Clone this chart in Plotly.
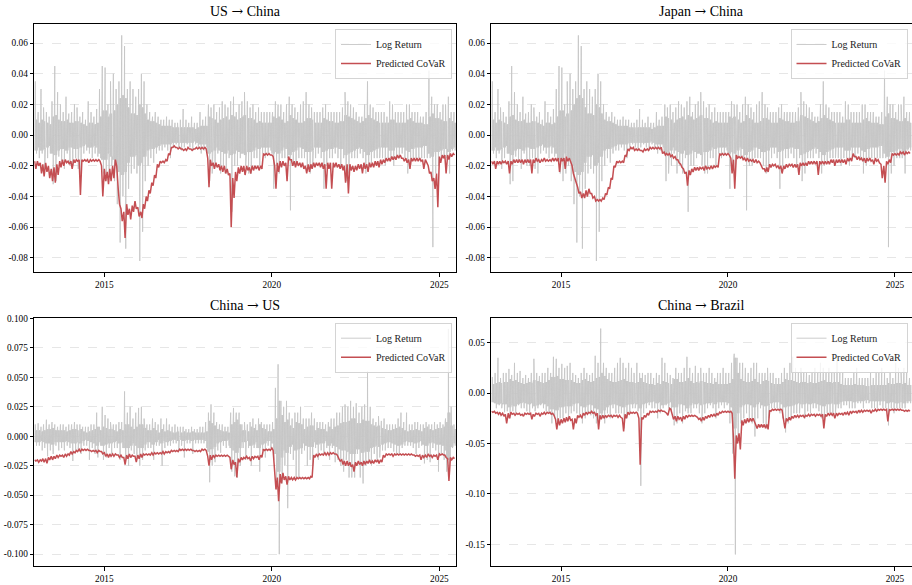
import pandas as pd
import plotly.graph_objects as go

# Monthly observation grid: Dec 2012 .. Jun 2025 (151 months)
month_starts = pd.date_range("2012-12-01", "2025-06-01", freq="MS")

# ---------------- China log return (target of panels 1 & 2) ----------------
# monthly spike high / spike low and half-width of the dense daily band
cn_ret_high = [
    0.035,
    0.015, 0.030, 0.018, 0.015, 0.012, 0.022, 0.045, 0.028, 0.020, 0.015, 0.025, 0.014,
    0.015, 0.020, 0.018, 0.012, 0.015, 0.010, 0.022, 0.015, 0.012, 0.017, 0.030, 0.045,
    0.044, 0.020, 0.035, 0.040, 0.030, 0.035, 0.065, 0.058, 0.030, 0.035, 0.030, 0.025,
    0.030, 0.040, 0.035, 0.020, 0.015, 0.012, 0.015, 0.012, 0.010, 0.010, 0.012, 0.010,
    0.010, 0.008, 0.008, 0.010, 0.017, 0.010, 0.008, 0.012, 0.008, 0.008, 0.015, 0.010,
    0.012, 0.020, 0.018, 0.020, 0.015, 0.018, 0.022, 0.020, 0.018, 0.022, 0.025, 0.015,
    0.020, 0.022, 0.028, 0.022, 0.018, 0.020, 0.015, 0.018, 0.015, 0.015, 0.015, 0.015,
    0.015, 0.022, 0.020, 0.020, 0.015, 0.020, 0.025, 0.020, 0.018, 0.015, 0.020, 0.022,
    0.028, 0.020, 0.018, 0.015, 0.015, 0.015, 0.018, 0.020, 0.015, 0.015, 0.015, 0.015,
    0.015, 0.018, 0.028, 0.022, 0.020, 0.018, 0.015, 0.012, 0.012, 0.020, 0.035, 0.020,
    0.018, 0.015, 0.015, 0.015, 0.015, 0.012, 0.022, 0.020, 0.015, 0.015, 0.015, 0.015,
    0.020, 0.020, 0.015, 0.015, 0.015, 0.012, 0.012, 0.015, 0.042, 0.025, 0.020, 0.020,
    0.015, 0.020, 0.020, 0.025, 0.015, 0.015,
]
cn_ret_low = [
    -0.012,
    -0.015, -0.012, -0.022, -0.015, -0.012, -0.032, -0.030, -0.014, -0.017, -0.022, -0.012, -0.020,
    -0.020, -0.015, -0.022, -0.025, -0.012, -0.010, -0.012, -0.015, -0.012, -0.014, -0.015, -0.025,
    -0.030, -0.025, -0.020, -0.030, -0.045, -0.070, -0.040, -0.074, -0.035, -0.025, -0.022, -0.025,
    -0.082, -0.063, -0.030, -0.020, -0.015, -0.018, -0.012, -0.010, -0.010, -0.008, -0.010, -0.015,
    -0.008, -0.006, -0.008, -0.010, -0.008, -0.006, -0.008, -0.010, -0.006, -0.008, -0.012, -0.010,
    -0.008, -0.030, -0.025, -0.020, -0.012, -0.025, -0.020, -0.025, -0.015, -0.050, -0.020, -0.020,
    -0.015, -0.012, -0.020, -0.025, -0.025, -0.015, -0.015, -0.020, -0.012, -0.015, -0.012, -0.010,
    -0.035, -0.020, -0.025, -0.015, -0.015, -0.015, -0.049, -0.020, -0.020, -0.015, -0.015, -0.015,
    -0.020, -0.025, -0.020, -0.015, -0.012, -0.015, -0.035, -0.020, -0.015, -0.015, -0.012, -0.015,
    -0.020, -0.015, -0.030, -0.025, -0.015, -0.015, -0.015, -0.012, -0.015, -0.025, -0.020, -0.018,
    -0.015, -0.015, -0.015, -0.015, -0.020, -0.015, -0.015, -0.020, -0.015, -0.015, -0.012, -0.015,
    -0.025, -0.020, -0.015, -0.015, -0.015, -0.015, -0.015, -0.015, -0.015, -0.073, -0.025, -0.020,
    -0.015, -0.015, -0.015, -0.025, -0.010, -0.010,
]
cn_ret_core = [
    0.010,
    0.008, 0.010, 0.009, 0.008, 0.007, 0.012, 0.013, 0.010, 0.009, 0.009, 0.010, 0.008,
    0.008, 0.009, 0.009, 0.008, 0.007, 0.006, 0.008, 0.008, 0.007, 0.008, 0.012, 0.016,
    0.016, 0.012, 0.014, 0.016, 0.020, 0.024, 0.026, 0.024, 0.018, 0.014, 0.014, 0.013,
    0.020, 0.018, 0.014, 0.010, 0.009, 0.009, 0.008, 0.007, 0.006, 0.006, 0.006, 0.006,
    0.005, 0.005, 0.005, 0.005, 0.005, 0.005, 0.005, 0.005, 0.004, 0.005, 0.006, 0.006,
    0.006, 0.012, 0.011, 0.010, 0.008, 0.010, 0.011, 0.012, 0.010, 0.013, 0.012, 0.010,
    0.011, 0.012, 0.013, 0.011, 0.011, 0.010, 0.008, 0.009, 0.008, 0.008, 0.008, 0.008,
    0.012, 0.011, 0.012, 0.010, 0.008, 0.009, 0.013, 0.011, 0.010, 0.008, 0.008, 0.009,
    0.011, 0.011, 0.010, 0.008, 0.008, 0.008, 0.011, 0.010, 0.009, 0.009, 0.008, 0.008,
    0.009, 0.009, 0.013, 0.012, 0.011, 0.010, 0.009, 0.008, 0.009, 0.011, 0.013, 0.011,
    0.010, 0.009, 0.008, 0.008, 0.008, 0.008, 0.010, 0.010, 0.008, 0.008, 0.008, 0.008,
    0.010, 0.011, 0.009, 0.008, 0.008, 0.008, 0.007, 0.007, 0.012, 0.014, 0.011, 0.011,
    0.010, 0.009, 0.009, 0.011, 0.009, 0.008,
]

# ---------------- US log return (panel 3) ----------------
us_ret_high = [
    0.010,
    0.011, 0.008, 0.010, 0.014, 0.010, 0.012, 0.010, 0.008, 0.010, 0.010, 0.008, 0.010,
    0.010, 0.012, 0.010, 0.010, 0.008, 0.008, 0.008, 0.010, 0.010, 0.020, 0.008, 0.025,
    0.018, 0.015, 0.012, 0.010, 0.010, 0.012, 0.012, 0.038, 0.020, 0.025, 0.015, 0.020,
    0.024, 0.025, 0.015, 0.010, 0.010, 0.015, 0.012, 0.010, 0.015, 0.010, 0.015, 0.010,
    0.008, 0.010, 0.008, 0.008, 0.008, 0.006, 0.006, 0.008, 0.006, 0.006, 0.008, 0.008,
    0.012, 0.020, 0.027, 0.020, 0.012, 0.010, 0.010, 0.008, 0.008, 0.020, 0.024, 0.020,
    0.020, 0.010, 0.012, 0.010, 0.012, 0.015, 0.010, 0.015, 0.012, 0.010, 0.010, 0.010,
    0.012, 0.041, 0.061, 0.030, 0.025, 0.030, 0.020, 0.015, 0.020, 0.020, 0.025, 0.015,
    0.015, 0.015, 0.020, 0.015, 0.012, 0.012, 0.012, 0.010, 0.012, 0.015, 0.015, 0.020,
    0.020, 0.025, 0.027, 0.025, 0.030, 0.025, 0.028, 0.020, 0.025, 0.027, 0.055, 0.025,
    0.015, 0.012, 0.017, 0.013, 0.015, 0.010, 0.010, 0.010, 0.010, 0.015, 0.020, 0.012,
    0.020, 0.010, 0.010, 0.012, 0.012, 0.010, 0.010, 0.012, 0.010, 0.010, 0.012, 0.010,
    0.012, 0.010, 0.015, 0.091, 0.025, 0.010,
]
us_ret_low = [
    -0.008,
    -0.008, -0.012, -0.010, -0.017, -0.012, -0.015, -0.008, -0.012, -0.010, -0.012, -0.008, -0.010,
    -0.021, -0.012, -0.012, -0.015, -0.008, -0.008, -0.020, -0.010, -0.015, -0.018, -0.008, -0.020,
    -0.018, -0.010, -0.015, -0.010, -0.010, -0.020, -0.010, -0.020, -0.025, -0.012, -0.015, -0.018,
    -0.025, -0.020, -0.012, -0.010, -0.010, -0.020, -0.008, -0.008, -0.025, -0.010, -0.008, -0.008,
    -0.006, -0.006, -0.012, -0.008, -0.018, -0.006, -0.006, -0.015, -0.006, -0.006, -0.006, -0.006,
    -0.010, -0.039, -0.025, -0.022, -0.012, -0.014, -0.008, -0.010, -0.008, -0.030, -0.034, -0.035,
    -0.025, -0.010, -0.020, -0.010, -0.025, -0.010, -0.010, -0.030, -0.012, -0.018, -0.008, -0.010,
    -0.020, -0.045, -0.100, -0.040, -0.025, -0.061, -0.015, -0.020, -0.035, -0.035, -0.015, -0.012,
    -0.025, -0.020, -0.025, -0.010, -0.020, -0.012, -0.015, -0.010, -0.020, -0.010, -0.022, -0.020,
    -0.025, -0.030, -0.020, -0.035, -0.035, -0.035, -0.015, -0.035, -0.040, -0.025, -0.020, -0.025,
    -0.015, -0.020, -0.018, -0.012, -0.012, -0.010, -0.010, -0.013, -0.015, -0.015, -0.010, -0.008,
    -0.008, -0.008, -0.010, -0.015, -0.010, -0.008, -0.023, -0.020, -0.022, -0.010, -0.012, -0.030,
    -0.015, -0.020, -0.030, -0.030, -0.010, -0.008,
]
us_ret_core = [
    0.005,
    0.005, 0.004, 0.005, 0.006, 0.006, 0.007, 0.005, 0.005, 0.005, 0.005, 0.004, 0.005,
    0.006, 0.006, 0.005, 0.006, 0.004, 0.003, 0.004, 0.005, 0.006, 0.008, 0.005, 0.008,
    0.007, 0.006, 0.006, 0.005, 0.004, 0.006, 0.005, 0.010, 0.010, 0.008, 0.006, 0.008,
    0.010, 0.010, 0.007, 0.005, 0.005, 0.007, 0.005, 0.003, 0.006, 0.004, 0.005, 0.004,
    0.003, 0.003, 0.004, 0.003, 0.004, 0.003, 0.003, 0.004, 0.003, 0.003, 0.003, 0.003,
    0.004, 0.013, 0.011, 0.009, 0.006, 0.005, 0.004, 0.004, 0.003, 0.010, 0.012, 0.014,
    0.010, 0.005, 0.005, 0.004, 0.008, 0.007, 0.005, 0.010, 0.007, 0.006, 0.004, 0.004,
    0.006, 0.015, 0.030, 0.018, 0.012, 0.014, 0.009, 0.007, 0.012, 0.011, 0.010, 0.006,
    0.008, 0.009, 0.009, 0.005, 0.007, 0.006, 0.006, 0.004, 0.008, 0.006, 0.008, 0.009,
    0.011, 0.012, 0.012, 0.013, 0.015, 0.015, 0.011, 0.011, 0.014, 0.013, 0.013, 0.010,
    0.009, 0.008, 0.009, 0.007, 0.006, 0.005, 0.005, 0.006, 0.007, 0.008, 0.007, 0.005,
    0.004, 0.005, 0.005, 0.006, 0.005, 0.004, 0.007, 0.008, 0.006, 0.005, 0.006, 0.007,
    0.007, 0.008, 0.012, 0.020, 0.009, 0.006,
]

# ---------------- Brazil log return (panel 4) ----------------
br_ret_high = [
    0.016,
    0.020, 0.035, 0.015, 0.020, 0.020, 0.024, 0.018, 0.030, 0.020, 0.022, 0.015, 0.018,
    0.015, 0.020, 0.034, 0.020, 0.017, 0.020, 0.020, 0.025, 0.020, 0.036, 0.034, 0.025,
    0.029, 0.025, 0.027, 0.030, 0.020, 0.018, 0.015, 0.020, 0.025, 0.020, 0.018, 0.020,
    0.037, 0.030, 0.064, 0.030, 0.025, 0.020, 0.020, 0.025, 0.030, 0.035, 0.030, 0.025,
    0.030, 0.025, 0.020, 0.030, 0.020, 0.020, 0.018, 0.020, 0.020, 0.015, 0.020, 0.018,
    0.035, 0.030, 0.020, 0.018, 0.015, 0.025, 0.020, 0.020, 0.025, 0.036, 0.025, 0.020,
    0.027, 0.020, 0.025, 0.020, 0.020, 0.025, 0.020, 0.015, 0.020, 0.020, 0.025, 0.020,
    0.020, 0.030, 0.039, 0.035, 0.030, 0.030, 0.025, 0.020, 0.025, 0.030, 0.030, 0.020,
    0.020, 0.020, 0.025, 0.020, 0.020, 0.015, 0.015, 0.020, 0.025, 0.020, 0.030, 0.036,
    0.025, 0.020, 0.025, 0.020, 0.020, 0.018, 0.020, 0.025, 0.020, 0.030, 0.025, 0.020,
    0.025, 0.020, 0.020, 0.037, 0.020, 0.020, 0.015, 0.015, 0.015, 0.020, 0.025, 0.015,
    0.015, 0.015, 0.015, 0.020, 0.015, 0.020, 0.020, 0.025, 0.020, 0.015, 0.020, 0.015,
    0.030, 0.025, 0.020, 0.025, 0.020, 0.015,
]
br_ret_low = [
    -0.009,
    -0.015, -0.012, -0.015, -0.019, -0.018, -0.025, -0.018, -0.020, -0.012, -0.015, -0.015, -0.018,
    -0.020, -0.015, -0.018, -0.015, -0.012, -0.015, -0.018, -0.020, -0.030, -0.025, -0.033, -0.025,
    -0.025, -0.020, -0.025, -0.020, -0.018, -0.020, -0.022, -0.030, -0.025, -0.020, -0.022, -0.025,
    -0.030, -0.025, -0.025, -0.030, -0.020, -0.025, -0.015, -0.020, -0.020, -0.020, -0.035, -0.025,
    -0.020, -0.015, -0.015, -0.018, -0.092, -0.020, -0.015, -0.012, -0.015, -0.015, -0.025, -0.020,
    -0.015, -0.012, -0.015, -0.018, -0.032, -0.030, -0.020, -0.030, -0.018, -0.020, -0.020, -0.015,
    -0.015, -0.020, -0.030, -0.020, -0.015, -0.012, -0.015, -0.025, -0.015, -0.012, -0.015, -0.012,
    -0.030, -0.060, -0.160, -0.045, -0.030, -0.025, -0.020, -0.025, -0.030, -0.043, -0.025, -0.015,
    -0.030, -0.035, -0.025, -0.015, -0.015, -0.015, -0.020, -0.025, -0.039, -0.030, -0.025, -0.020,
    -0.020, -0.020, -0.015, -0.025, -0.018, -0.020, -0.015, -0.015, -0.018, -0.025, -0.030, -0.020,
    -0.020, -0.020, -0.020, -0.015, -0.015, -0.012, -0.012, -0.015, -0.015, -0.015, -0.010, -0.010,
    -0.015, -0.010, -0.010, -0.015, -0.015, -0.015, -0.012, -0.015, -0.015, -0.032, -0.015, -0.020,
    -0.015, -0.015, -0.015, -0.015, -0.010, -0.010,
]
br_ret_core = [
    0.009,
    0.010, 0.011, 0.010, 0.011, 0.011, 0.014, 0.012, 0.013, 0.011, 0.010, 0.009, 0.010,
    0.011, 0.010, 0.013, 0.012, 0.011, 0.010, 0.011, 0.013, 0.016, 0.016, 0.017, 0.014,
    0.014, 0.013, 0.013, 0.013, 0.011, 0.010, 0.010, 0.013, 0.014, 0.012, 0.011, 0.012,
    0.015, 0.016, 0.020, 0.017, 0.014, 0.012, 0.011, 0.011, 0.012, 0.013, 0.014, 0.012,
    0.011, 0.011, 0.010, 0.011, 0.015, 0.011, 0.010, 0.009, 0.009, 0.008, 0.010, 0.009,
    0.012, 0.011, 0.010, 0.009, 0.014, 0.014, 0.011, 0.011, 0.012, 0.015, 0.012, 0.010,
    0.011, 0.010, 0.012, 0.011, 0.010, 0.010, 0.009, 0.011, 0.009, 0.009, 0.009, 0.009,
    0.010, 0.014, 0.035, 0.020, 0.014, 0.012, 0.011, 0.011, 0.012, 0.014, 0.011, 0.009,
    0.012, 0.013, 0.012, 0.010, 0.009, 0.009, 0.009, 0.011, 0.014, 0.013, 0.013, 0.012,
    0.011, 0.010, 0.011, 0.011, 0.010, 0.011, 0.010, 0.010, 0.011, 0.012, 0.013, 0.011,
    0.011, 0.010, 0.011, 0.011, 0.009, 0.008, 0.008, 0.008, 0.008, 0.009, 0.008, 0.008,
    0.008, 0.007, 0.007, 0.008, 0.008, 0.008, 0.008, 0.008, 0.008, 0.010, 0.009, 0.009,
    0.010, 0.010, 0.009, 0.010, 0.008, 0.008,
]

# ---------------- Predicted CoVaR: monthly level and intra-month trough ----------------
us_cn_covar_level = [
    -0.017,
    -0.017, -0.018, -0.019, -0.018, -0.020, -0.022, -0.021, -0.019, -0.017, -0.016, -0.016, -0.017,
    -0.017, -0.016, -0.016, -0.016, -0.016, -0.016, -0.016, -0.016, -0.016, -0.016, -0.016, -0.020,
    -0.022, -0.024, -0.022, -0.020, -0.016, -0.035, -0.048, -0.050, -0.045, -0.048, -0.046, -0.043,
    -0.047, -0.050, -0.045, -0.040, -0.036, -0.031, -0.026, -0.019, -0.017, -0.017, -0.016, -0.012,
    -0.008, -0.007, -0.008, -0.008, -0.009, -0.009, -0.008, -0.009, -0.009, -0.008, -0.008, -0.008,
    -0.008, -0.015, -0.016, -0.018, -0.018, -0.019, -0.020, -0.020, -0.022, -0.025, -0.028, -0.024,
    -0.021, -0.020, -0.020, -0.020, -0.021, -0.020, -0.020, -0.020, -0.020, -0.012, -0.012, -0.012,
    -0.013, -0.020, -0.018, -0.017, -0.017, -0.018, -0.014, -0.016, -0.017, -0.017, -0.018, -0.018,
    -0.020, -0.019, -0.019, -0.018, -0.018, -0.018, -0.018, -0.019, -0.018, -0.018, -0.018, -0.018,
    -0.019, -0.019, -0.020, -0.019, -0.019, -0.020, -0.020, -0.019, -0.019, -0.018, -0.019, -0.018,
    -0.018, -0.017, -0.017, -0.016, -0.016, -0.015, -0.015, -0.014, -0.014, -0.013, -0.013, -0.015,
    -0.015, -0.016, -0.015, -0.015, -0.015, -0.015, -0.016, -0.016, -0.020, -0.024, -0.028, -0.025,
    -0.014, -0.013, -0.013, -0.013, -0.012, -0.012,
]
us_cn_covar_trough = [
    -0.022,
    -0.020, -0.025, -0.027, -0.024, -0.028, -0.030, -0.031, -0.026, -0.021, -0.020, -0.018, -0.019,
    -0.022, -0.018, -0.017, -0.039, -0.017, -0.017, -0.018, -0.017, -0.017, -0.017, -0.017, -0.040,
    -0.030, -0.032, -0.030, -0.028, -0.020, -0.045, -0.056, -0.067, -0.052, -0.055, -0.050, -0.048,
    -0.053, -0.054, -0.048, -0.043, -0.038, -0.033, -0.028, -0.021, -0.018, -0.018, -0.017, -0.013,
    -0.008, -0.008, -0.009, -0.009, -0.010, -0.010, -0.009, -0.010, -0.009, -0.009, -0.009, -0.009,
    -0.009, -0.034, -0.020, -0.022, -0.021, -0.023, -0.024, -0.025, -0.026, -0.060, -0.041, -0.030,
    -0.025, -0.024, -0.026, -0.023, -0.025, -0.023, -0.022, -0.023, -0.022, -0.013, -0.013, -0.013,
    -0.014, -0.035, -0.024, -0.021, -0.020, -0.030, -0.016, -0.020, -0.021, -0.020, -0.021, -0.022,
    -0.025, -0.024, -0.022, -0.021, -0.020, -0.021, -0.022, -0.035, -0.022, -0.035, -0.021, -0.021,
    -0.022, -0.023, -0.031, -0.038, -0.023, -0.024, -0.023, -0.022, -0.025, -0.022, -0.024, -0.021,
    -0.021, -0.020, -0.021, -0.019, -0.018, -0.017, -0.017, -0.016, -0.016, -0.015, -0.015, -0.017,
    -0.018, -0.022, -0.017, -0.017, -0.017, -0.017, -0.022, -0.018, -0.025, -0.030, -0.035, -0.047,
    -0.018, -0.015, -0.025, -0.016, -0.014, -0.013,
]

jp_cn_covar_level = [
    -0.017,
    -0.017, -0.017, -0.017, -0.017, -0.017, -0.017, -0.017, -0.016, -0.016, -0.016, -0.016, -0.016,
    -0.016, -0.016, -0.016, -0.015, -0.016, -0.016, -0.015, -0.016, -0.016, -0.015, -0.015, -0.015,
    -0.015, -0.015, -0.014, -0.015, -0.020, -0.028, -0.034, -0.037, -0.038, -0.036, -0.035, -0.038,
    -0.040, -0.042, -0.042, -0.041, -0.038, -0.034, -0.028, -0.020, -0.017, -0.017, -0.017, -0.013,
    -0.009, -0.008, -0.008, -0.009, -0.009, -0.010, -0.009, -0.009, -0.008, -0.008, -0.008, -0.008,
    -0.008, -0.011, -0.012, -0.012, -0.013, -0.014, -0.016, -0.019, -0.022, -0.024, -0.023, -0.022,
    -0.021, -0.021, -0.021, -0.021, -0.020, -0.021, -0.020, -0.020, -0.020, -0.012, -0.012, -0.012,
    -0.012, -0.015, -0.016, -0.013, -0.014, -0.014, -0.015, -0.015, -0.016, -0.016, -0.016, -0.017,
    -0.020, -0.022, -0.021, -0.019, -0.019, -0.019, -0.020, -0.020, -0.020, -0.019, -0.019, -0.019,
    -0.019, -0.019, -0.018, -0.018, -0.018, -0.017, -0.017, -0.017, -0.017, -0.017, -0.017, -0.017,
    -0.017, -0.016, -0.016, -0.016, -0.016, -0.016, -0.016, -0.015, -0.015, -0.012, -0.014, -0.014,
    -0.015, -0.015, -0.015, -0.015, -0.016, -0.015, -0.016, -0.019, -0.020, -0.017, -0.016, -0.012,
    -0.012, -0.012, -0.011, -0.011, -0.011, -0.011,
]
jp_cn_covar_trough = [
    -0.019,
    -0.022, -0.019, -0.019, -0.018, -0.019, -0.025, -0.019, -0.018, -0.018, -0.018, -0.019, -0.018,
    -0.018, -0.025, -0.018, -0.017, -0.018, -0.017, -0.017, -0.017, -0.017, -0.017, -0.017, -0.024,
    -0.017, -0.022, -0.017, -0.017, -0.025, -0.032, -0.038, -0.041, -0.041, -0.040, -0.038, -0.041,
    -0.043, -0.043, -0.043, -0.042, -0.039, -0.035, -0.029, -0.021, -0.018, -0.018, -0.018, -0.014,
    -0.010, -0.009, -0.010, -0.010, -0.010, -0.011, -0.010, -0.010, -0.009, -0.009, -0.009, -0.009,
    -0.012, -0.013, -0.013, -0.014, -0.015, -0.016, -0.018, -0.021, -0.025, -0.033, -0.026, -0.024,
    -0.023, -0.023, -0.022, -0.023, -0.022, -0.022, -0.022, -0.021, -0.021, -0.013, -0.013, -0.013,
    -0.013, -0.025, -0.035, -0.015, -0.015, -0.016, -0.017, -0.017, -0.017, -0.018, -0.018, -0.018,
    -0.022, -0.024, -0.024, -0.021, -0.020, -0.021, -0.022, -0.025, -0.022, -0.021, -0.020, -0.021,
    -0.021, -0.026, -0.020, -0.020, -0.020, -0.019, -0.019, -0.019, -0.026, -0.019, -0.019, -0.019,
    -0.019, -0.018, -0.020, -0.018, -0.018, -0.018, -0.019, -0.017, -0.017, -0.014, -0.016, -0.016,
    -0.017, -0.018, -0.017, -0.017, -0.019, -0.017, -0.018, -0.028, -0.031, -0.019, -0.018, -0.013,
    -0.013, -0.013, -0.012, -0.013, -0.012, -0.012,
]

cn_us_covar_level = [
    -0.020,
    -0.020, -0.020, -0.019, -0.019, -0.018, -0.017, -0.017, -0.016, -0.016, -0.016, -0.015, -0.015,
    -0.013, -0.013, -0.012, -0.011, -0.011, -0.011, -0.011, -0.012, -0.012, -0.012, -0.012, -0.013,
    -0.014, -0.015, -0.015, -0.015, -0.015, -0.016, -0.016, -0.018, -0.016, -0.015, -0.016, -0.017,
    -0.016, -0.015, -0.015, -0.015, -0.015, -0.014, -0.014, -0.014, -0.014, -0.013, -0.013, -0.013,
    -0.012, -0.012, -0.012, -0.011, -0.011, -0.011, -0.011, -0.011, -0.012, -0.012, -0.012, -0.011,
    -0.011, -0.017, -0.016, -0.016, -0.016, -0.016, -0.016, -0.016, -0.016, -0.018, -0.020, -0.022,
    -0.019, -0.018, -0.018, -0.017, -0.018, -0.017, -0.017, -0.017, -0.016, -0.011, -0.011, -0.011,
    -0.010, -0.030, -0.035, -0.032, -0.031, -0.034, -0.034, -0.035, -0.035, -0.035, -0.035, -0.035,
    -0.035, -0.035, -0.034, -0.016, -0.015, -0.015, -0.015, -0.014, -0.014, -0.014, -0.014, -0.015,
    -0.019, -0.020, -0.021, -0.021, -0.022, -0.024, -0.022, -0.021, -0.022, -0.021, -0.021, -0.020,
    -0.021, -0.020, -0.020, -0.020, -0.016, -0.015, -0.015, -0.015, -0.015, -0.015, -0.015, -0.015,
    -0.015, -0.015, -0.015, -0.016, -0.016, -0.016, -0.016, -0.016, -0.015, -0.016, -0.016, -0.016,
    -0.015, -0.015, -0.016, -0.019, -0.018, -0.018,
]
cn_us_covar_trough = [
    -0.021,
    -0.022, -0.021, -0.022, -0.023, -0.020, -0.020, -0.019, -0.018, -0.017, -0.018, -0.017, -0.016,
    -0.015, -0.014, -0.013, -0.013, -0.012, -0.012, -0.012, -0.013, -0.013, -0.014, -0.013, -0.015,
    -0.017, -0.018, -0.017, -0.017, -0.016, -0.018, -0.018, -0.024, -0.019, -0.018, -0.017, -0.022,
    -0.019, -0.018, -0.016, -0.016, -0.016, -0.016, -0.015, -0.015, -0.015, -0.015, -0.014, -0.014,
    -0.013, -0.013, -0.013, -0.012, -0.012, -0.012, -0.012, -0.012, -0.013, -0.013, -0.013, -0.012,
    -0.012, -0.025, -0.020, -0.018, -0.017, -0.017, -0.017, -0.017, -0.017, -0.028, -0.024, -0.035,
    -0.022, -0.020, -0.019, -0.019, -0.021, -0.019, -0.018, -0.020, -0.018, -0.012, -0.012, -0.012,
    -0.012, -0.045, -0.055, -0.040, -0.037, -0.041, -0.037, -0.037, -0.037, -0.036, -0.036, -0.036,
    -0.036, -0.036, -0.035, -0.018, -0.017, -0.016, -0.016, -0.016, -0.016, -0.015, -0.015, -0.016,
    -0.021, -0.024, -0.025, -0.025, -0.026, -0.030, -0.025, -0.024, -0.025, -0.024, -0.023, -0.023,
    -0.023, -0.022, -0.023, -0.022, -0.018, -0.016, -0.016, -0.017, -0.016, -0.016, -0.016, -0.016,
    -0.016, -0.016, -0.016, -0.017, -0.017, -0.020, -0.018, -0.018, -0.017, -0.018, -0.017, -0.020,
    -0.016, -0.016, -0.018, -0.038, -0.020, -0.019,
]

cn_br_covar_level = [
    -0.018,
    -0.018, -0.019, -0.019, -0.020, -0.021, -0.020, -0.019, -0.020, -0.020, -0.020, -0.021, -0.020,
    -0.020, -0.020, -0.021, -0.020, -0.020, -0.020, -0.019, -0.019, -0.019, -0.020, -0.026, -0.025,
    -0.026, -0.025, -0.024, -0.023, -0.026, -0.025, -0.022, -0.022, -0.020, -0.019, -0.019, -0.018,
    -0.019, -0.020, -0.022, -0.022, -0.022, -0.022, -0.022, -0.022, -0.022, -0.022, -0.025, -0.021,
    -0.019, -0.019, -0.019, -0.019, -0.025, -0.024, -0.022, -0.020, -0.018, -0.018, -0.018, -0.017,
    -0.017, -0.018, -0.020, -0.015, -0.022, -0.023, -0.023, -0.024, -0.023, -0.022, -0.022, -0.022,
    -0.022, -0.024, -0.025, -0.024, -0.023, -0.022, -0.021, -0.021, -0.020, -0.019, -0.018, -0.018,
    -0.018, -0.018, -0.045, -0.042, -0.040, -0.027, -0.026, -0.025, -0.025, -0.025, -0.031, -0.031,
    -0.031, -0.031, -0.031, -0.017, -0.016, -0.016, -0.016, -0.016, -0.027, -0.025, -0.024, -0.023,
    -0.022, -0.022, -0.022, -0.022, -0.022, -0.021, -0.021, -0.021, -0.021, -0.021, -0.021, -0.021,
    -0.020, -0.020, -0.020, -0.020, -0.020, -0.020, -0.019, -0.019, -0.018, -0.018, -0.018, -0.017,
    -0.017, -0.017, -0.017, -0.017, -0.017, -0.016, -0.016, -0.016, -0.016, -0.016, -0.016, -0.016,
    -0.016, -0.016, -0.016, -0.017, -0.017, -0.017,
]
cn_br_covar_trough = [
    -0.019,
    -0.020, -0.021, -0.022, -0.023, -0.030, -0.025, -0.021, -0.022, -0.021, -0.022, -0.023, -0.021,
    -0.021, -0.026, -0.023, -0.021, -0.023, -0.021, -0.021, -0.020, -0.021, -0.022, -0.036, -0.032,
    -0.030, -0.029, -0.028, -0.027, -0.036, -0.030, -0.024, -0.025, -0.022, -0.021, -0.020, -0.020,
    -0.022, -0.036, -0.026, -0.025, -0.024, -0.023, -0.024, -0.023, -0.024, -0.024, -0.038, -0.025,
    -0.021, -0.020, -0.020, -0.020, -0.071, -0.026, -0.024, -0.022, -0.019, -0.019, -0.019, -0.018,
    -0.018, -0.019, -0.022, -0.016, -0.026, -0.028, -0.026, -0.028, -0.026, -0.024, -0.023, -0.023,
    -0.023, -0.026, -0.028, -0.027, -0.025, -0.024, -0.023, -0.023, -0.022, -0.020, -0.019, -0.019,
    -0.019, -0.020, -0.085, -0.050, -0.056, -0.032, -0.030, -0.029, -0.028, -0.028, -0.035, -0.034,
    -0.034, -0.035, -0.036, -0.018, -0.017, -0.017, -0.017, -0.017, -0.035, -0.028, -0.027, -0.025,
    -0.024, -0.024, -0.023, -0.024, -0.023, -0.023, -0.022, -0.023, -0.022, -0.023, -0.035, -0.023,
    -0.022, -0.022, -0.025, -0.022, -0.021, -0.022, -0.021, -0.022, -0.020, -0.019, -0.020, -0.019,
    -0.019, -0.018, -0.018, -0.020, -0.018, -0.018, -0.017, -0.017, -0.017, -0.028, -0.017, -0.017,
    -0.017, -0.017, -0.017, -0.018, -0.018, -0.018,
]

# ---------------- Panels, axes ticks ----------------
panel_sources = ["US", "Japan", "China", "China"]
panel_targets = ["China", "China", "US", "Brazil"]
ticks_cn = [-0.08, -0.06, -0.04, -0.02, 0.0, 0.02, 0.04, 0.06]
ticks_us = [-0.100, -0.075, -0.050, -0.025, 0.0, 0.025, 0.050, 0.075, 0.100]
ticks_br = [-0.15, -0.10, -0.05, 0.0, 0.05]
year_ticks = ["2015-01-01", "2020-01-01", "2025-01-01"]
year_labels = ["2015", "2020", "2025"]

for arr in [cn_ret_high, cn_ret_low, cn_ret_core, us_ret_high, us_ret_low, us_ret_core,
            br_ret_high, br_ret_low, br_ret_core,
            us_cn_covar_level, us_cn_covar_trough, jp_cn_covar_level, jp_cn_covar_trough,
            cn_us_covar_level, cn_us_covar_trough, cn_br_covar_level, cn_br_covar_trough]:
    assert len(arr) == len(month_starts), len(arr)


def return_path(high, low, core):
    """Path through each month's dense band (+/- core) and its spike high and low."""
    xs, ys = [], []
    for m, h, l, c in zip(month_starts, high, low, core):
        seq = [(1, -c), (4, c), (7, -c), (8, h), (9, c), (12, -c), (15, c),
               (18, -c), (20, c), (21, l), (22, -c), (25, c), (28, -c)]
        for d, v in seq:
            xs.append(m + pd.Timedelta(days=d))
            ys.append(v)
    return xs, ys


def covar_path(level, trough):
    xs, ys = [], []
    for m, a, b in zip(month_starts, level, trough):
        xs += [m, m + pd.Timedelta(days=14)]
        ys += [a, b]
    return xs, ys


panels = [
    (cn_ret_high, cn_ret_low, cn_ret_core, us_cn_covar_level, us_cn_covar_trough, [-0.0892, 0.0724], ticks_cn, 2),
    (cn_ret_high, cn_ret_low, cn_ret_core, jp_cn_covar_level, jp_cn_covar_trough, [-0.0892, 0.0724], ticks_cn, 2),
    (us_ret_high, us_ret_low, us_ret_core, cn_us_covar_level, cn_us_covar_trough, [-0.1100, 0.1005], ticks_us, 3),
    (br_ret_high, br_ret_low, br_ret_core, cn_br_covar_level, cn_br_covar_trough, [-0.1715, 0.0748], ticks_br, 2),
]

W, H = 912, 585
# plot-area pixel boxes (left, right, top, bottom)
boxes = [(34.3, 456.0, 24.0, 272.0), (491.3, 911.5, 24.0, 272.0),
         (34.3, 456.0, 317.7, 566.0), (491.3, 911.5, 317.7, 566.0)]

FONT = "Liberation Serif, Times New Roman, serif"
ARROW_FONT = "DejaVu Serif"
GRAY = "#c6c6c6"
RED = "#c44e52"
xrange_ = ["2012-11-28", "2025-07-01"]

fig = go.Figure()
layout = dict(
    width=W, height=H, margin=dict(l=0, r=0, t=0, b=0, autoexpand=False),
    paper_bgcolor="white", plot_bgcolor="white",
    font=dict(family=FONT, size=9.3, color="black"),
    showlegend=True, annotations=[],
)

for i, (rh, rl, rc, cl, ct, yr, yt, dec) in enumerate(panels):
    k = "" if i == 0 else str(i + 1)
    xa, ya = "x" + k, "y" + k
    lg = "legend" + k
    rx, ry = return_path(rh, rl, rc)
    cx, cy = covar_path(cl, ct)
    fig.add_trace(go.Scatter(x=rx, y=ry, mode="lines", name="Log Return",
                             line=dict(color=GRAY, width=0.9), xaxis=xa, yaxis=ya, legend=lg))
    fig.add_trace(go.Scatter(x=cx, y=cy, mode="lines", name="Predicted CoVaR",
                             line=dict(color=RED, width=1.5), xaxis=xa, yaxis=ya, legend=lg))
    l, r, t, b = boxes[i]
    layout["xaxis" + k] = dict(
        domain=[l / W, r / W], anchor=ya, type="date", range=xrange_, automargin=False,
        tickvals=year_ticks, ticktext=year_labels, ticks="outside", ticklen=3.5,
        tickwidth=0.8, tickcolor="black", showline=True, linecolor="black", linewidth=1.2,
        mirror=True, showgrid=False, zeroline=False, tickfont=dict(size=9.3),
    )
    layout["yaxis" + k] = dict(
        domain=[1 - b / H, 1 - t / H], anchor=xa, range=yr, automargin=False,
        tickvals=yt, ticktext=[f"{v:.{dec}f}" for v in yt], ticks="outside", ticklen=3.5,
        tickwidth=0.8, tickcolor="black", showline=True, linecolor="black", linewidth=1.2,
        mirror=True, showgrid=True, gridcolor="#e6e6e6", gridwidth=0.8, griddash="dash",
        zeroline=False, tickfont=dict(size=9.3),
    )
    layout[lg] = dict(
        x=(r - 4) / W, y=1 - (t + 5) / H, xanchor="right", yanchor="top",
        xref="paper", yref="paper",
        bgcolor="rgba(255,255,255,0.8)", bordercolor="#d4d4d4", borderwidth=1,
        font=dict(family=FONT, size=10, color="#222"), itemwidth=30,
        tracegroupgap=0,
    )
    title_text = (f"{panel_sources[i]} <span style='font-family:{ARROW_FONT};'>\u2192</span> "
                  f"{panel_targets[i]}")
    layout["annotations"].append(dict(
        text=title_text, x=(l + r) / 2 / W, y=1 - (t - 13) / H,
        xref="paper", yref="paper", xanchor="center", yanchor="middle",
        showarrow=False, font=dict(family=FONT, size=14, color="black"),
    ))

fig.update_layout(**layout)
fig.write_html("out.html", config={"displayModeBar": False},
               post_script="document.body.style.margin='0';document.body.style.padding='0';")
